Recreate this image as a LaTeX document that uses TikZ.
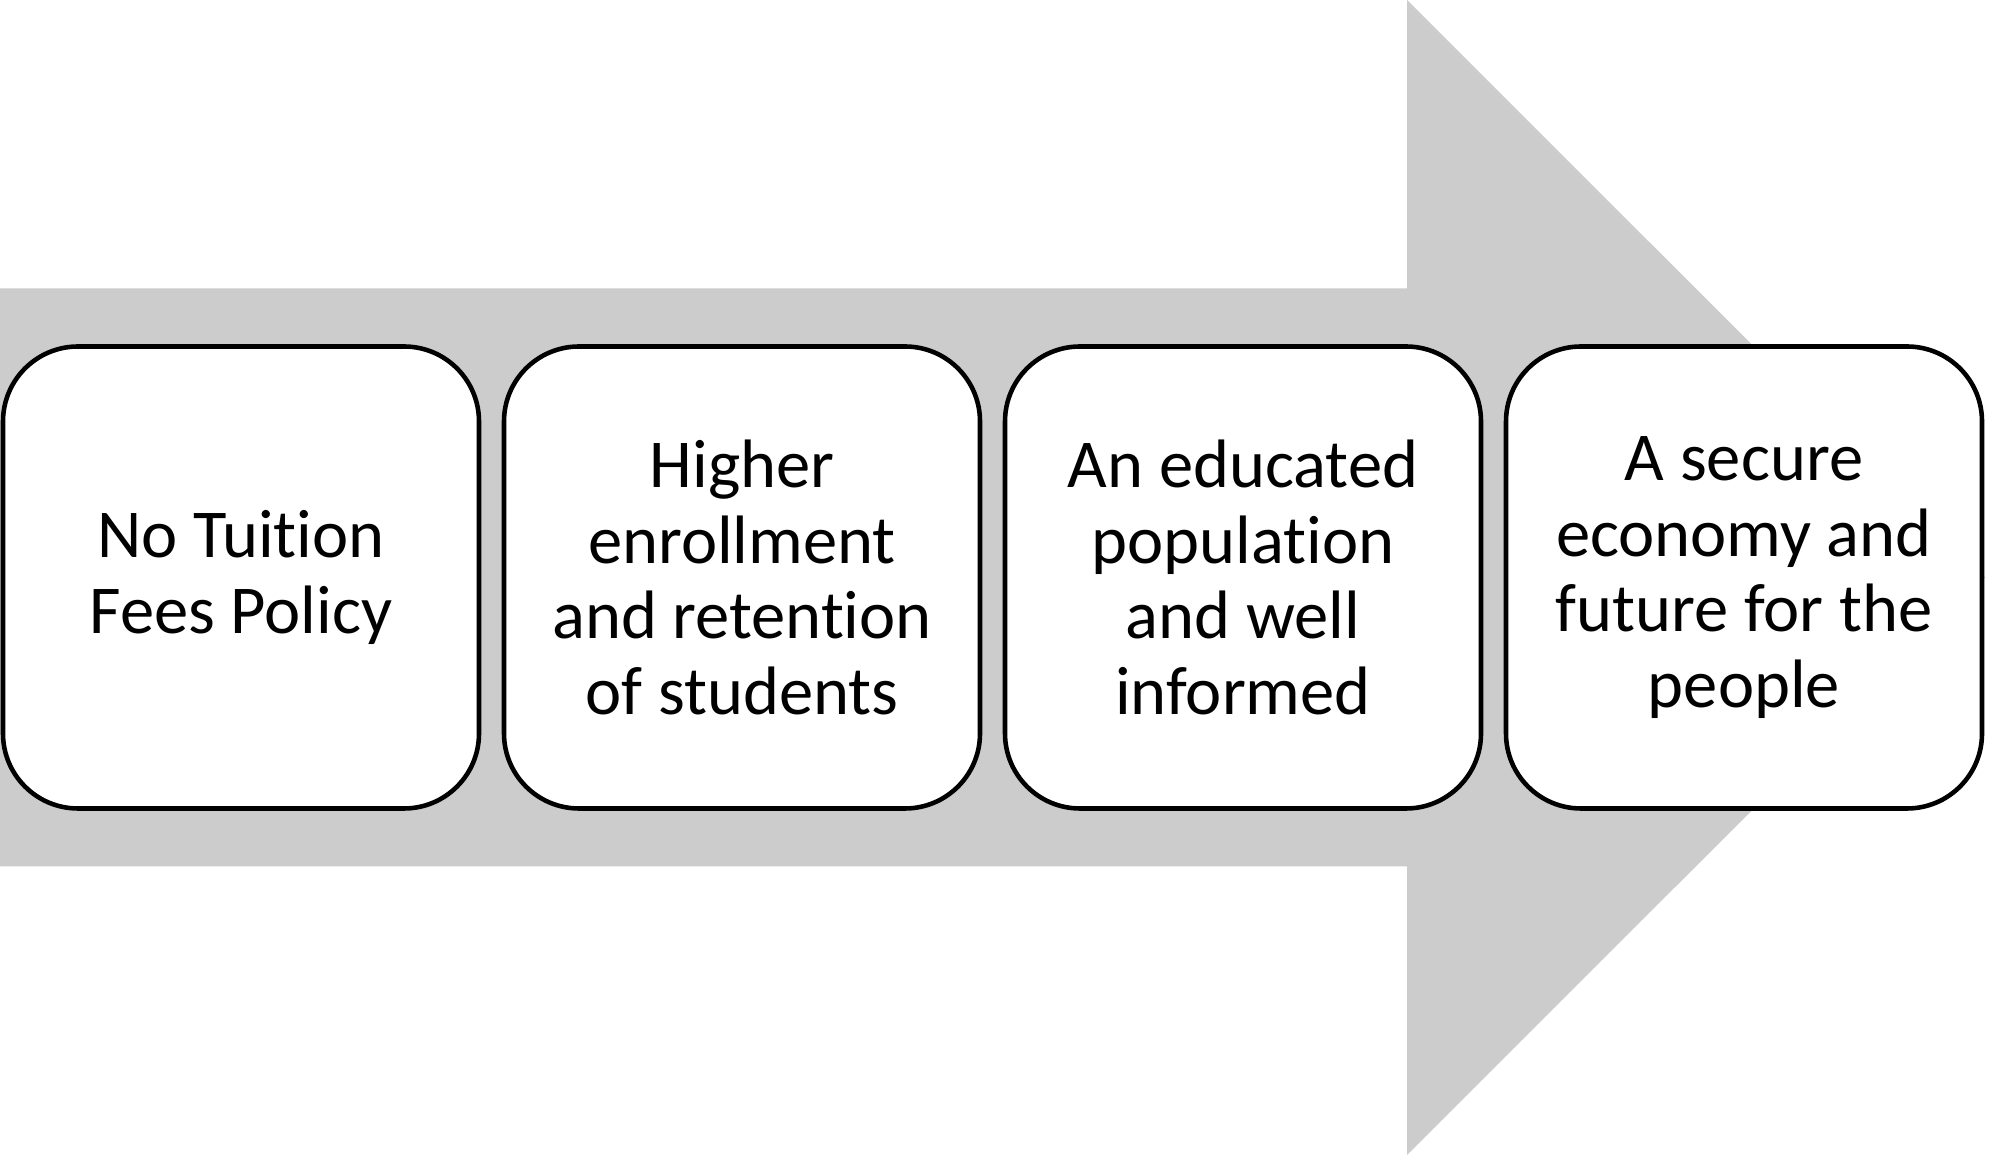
\documentclass[tikz,border=0pt]{standalone}
\usepackage{fontspec}
\setmainfont[Ligatures=NoCommon]{Carlito}
\usetikzlibrary{positioning}
\definecolor{arrowgray}{RGB}{204,204,204}
\begin{document}
\begin{tikzpicture}[stage/.style={rectangle, draw, fill=white, line width=1.3pt, rounded corners=0.75cm, minimum width=4.76cm, minimum height=4.62cm, inner sep=0mm, outer sep=0mm, align=center, font=\fontsize{19.5}{21.5}\selectfont}]
			\useasboundingbox (0,0) rectangle (19.89,11.55);
			\fill[arrowgray] (0,2.885) -- (14.07,2.885) -- (14.07,0) -- (19.85,5.775) -- (14.07,11.55) -- (14.07,8.665) -- (0,8.665) -- cycle;
			\node[stage] at (2.41,5.775) (1) {No Tuition\\Fees Policy};
			\node[stage, right=0.25cm of 1] (2) {Higher\\enrollment\\and retention\\of students};
			\node[stage, right=0.25cm of 2] (3) {An educated\\population\\and well\\informed};
			\node[stage, right=0.25cm of 3] (4) {A secure\\economy and\\future for the\\people};
		\end{tikzpicture}
\end{document}
